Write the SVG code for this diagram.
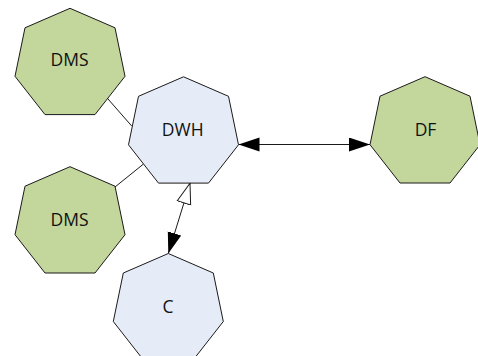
<svg xmlns="http://www.w3.org/2000/svg" width="478" height="356" viewBox="0 0 478 356">
  <style>
    .green { fill: #C3D69B; stroke: #1a1a1a; stroke-width: 1; }
    .blue { fill: #E6ECF7; stroke: #1a1a1a; stroke-width: 1; }
    .label { font-family: "Open Sans", "Liberation Sans", sans-serif; font-size: 17.5px; fill: #111; text-anchor: middle; }
    .link { stroke: #1a1a1a; stroke-width: 1; fill: none; }
  </style>
  <defs>
    <!-- heptagon outline, origin at the top vertex -->
    <polygon id="hepta" points="0,0 45,19.5 55,68 25,106.3 -25,106.3 -55,68 -45,19.5"/>
    <marker id="solid" markerUnits="userSpaceOnUse" markerWidth="24" markerHeight="16" refX="21" refY="7" orient="auto-start-reverse">
      <path d="M0,0 L21,7 L0,14 z" fill="#000"/>
    </marker>
    <marker id="hollow" markerUnits="userSpaceOnUse" markerWidth="24" markerHeight="18" refX="21" refY="8" orient="auto-start-reverse">
      <path d="M0.5,1 L21,8 L0.5,15 z" fill="#fff" stroke="#1a1a1a" stroke-width="1"/>
    </marker>
  </defs>
  <rect width="478" height="356" fill="#fff"/>

  <g id="connectors">
    <line class="link" x1="106" y1="96.7" x2="131.7" y2="126"/>
    <line class="link" x1="115" y1="187" x2="143.5" y2="164"/>
    <line class="link" x1="238.5" y1="144.5" x2="370" y2="144.5" marker-start="url(#solid)" marker-end="url(#solid)"/>
    <line class="link" x1="190" y1="183.3" x2="168.3" y2="253.5" marker-start="url(#hollow)" marker-end="url(#solid)"/>
  </g>

  <g id="dms-top">
    <use href="#hepta" class="green" transform="translate(70,8.3)"/>
    <text class="label" x="69.5" y="66">DMS</text>
  </g>
  <g id="dwh">
    <use href="#hepta" class="blue" transform="translate(183.5,76.8)"/>
    <text class="label" x="182.7" y="135.7">DWH</text>
  </g>
  <g id="dms-bottom">
    <use href="#hepta" class="green" transform="translate(70,166.7)"/>
    <text class="label" x="69.5" y="225.7">DMS</text>
  </g>
  <g id="df">
    <use href="#hepta" class="green" transform="translate(425,76.7)"/>
    <text class="label" x="425.5" y="136">DF</text>
  </g>
  <g id="c">
    <use href="#hepta" class="blue" transform="translate(168.3,253.5)"/>
    <text class="label" x="168" y="313.3">C</text>
  </g>
</svg>
